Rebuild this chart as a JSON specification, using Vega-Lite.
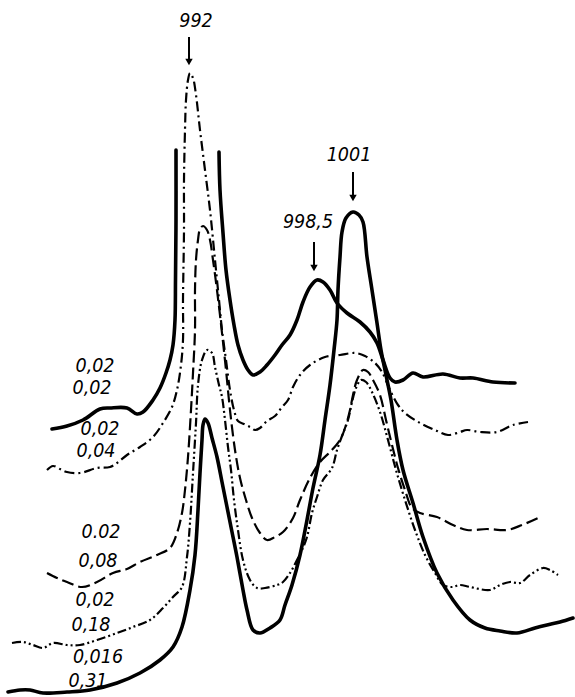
{
  "$schema": "https://vega.github.io/schema/vega-lite/v6.json",
  "width": 575,
  "height": 697,
  "padding": 0,
  "autosize": {"type": "fit", "contains": "padding"},
  "background": "white",
  "config": {"view": {"stroke": null}},
  "datasets": {
    "curves": [
      {"c":"A","s":1,"x":52,"y":429},{"c":"A","s":1,"x":67,"y":426},{"c":"A","s":1,"x":83,"y":420},{"c":"A","s":1,"x":100,"y":409},{"c":"A","s":1,"x":110,"y":408},{"c":"A","s":1,"x":127,"y":408},{"c":"A","s":1,"x":137,"y":414},{"c":"A","s":1,"x":143,"y":412},{"c":"A","s":1,"x":153,"y":400},{"c":"A","s":1,"x":160,"y":388},{"c":"A","s":1,"x":166,"y":373},{"c":"A","s":1,"x":170,"y":360},{"c":"A","s":1,"x":173,"y":345},{"c":"A","s":1,"x":175,"y":320},{"c":"A","s":1,"x":175.5,"y":280},{"c":"A","s":1,"x":176,"y":220},{"c":"A","s":1,"x":176,"y":150},
      {"c":"A","s":2,"x":219,"y":152},{"c":"A","s":2,"x":220,"y":190},{"c":"A","s":2,"x":223,"y":233},{"c":"A","s":2,"x":226,"y":270},{"c":"A","s":2,"x":230,"y":300},{"c":"A","s":2,"x":234,"y":325},{"c":"A","s":2,"x":238,"y":345},{"c":"A","s":2,"x":243,"y":360},{"c":"A","s":2,"x":248,"y":370},{"c":"A","s":2,"x":253,"y":375},{"c":"A","s":2,"x":260,"y":372},{"c":"A","s":2,"x":267,"y":365},{"c":"A","s":2,"x":275,"y":355},{"c":"A","s":2,"x":282,"y":345},{"c":"A","s":2,"x":290,"y":335},{"c":"A","s":2,"x":297,"y":320},{"c":"A","s":2,"x":303,"y":302},{"c":"A","s":2,"x":310,"y":287},{"c":"A","s":2,"x":317,"y":280},{"c":"A","s":2,"x":323,"y":282},{"c":"A","s":2,"x":330,"y":290},{"c":"A","s":2,"x":337,"y":303},{"c":"A","s":2,"x":347,"y":313},{"c":"A","s":2,"x":360,"y":322},{"c":"A","s":2,"x":370,"y":332},{"c":"A","s":2,"x":377,"y":343},{"c":"A","s":2,"x":383,"y":360},{"c":"A","s":2,"x":390,"y":378},{"c":"A","s":2,"x":395,"y":382},{"c":"A","s":2,"x":403,"y":380},{"c":"A","s":2,"x":413,"y":373},{"c":"A","s":2,"x":423,"y":377},{"c":"A","s":2,"x":443,"y":374},{"c":"A","s":2,"x":460,"y":378},{"c":"A","s":2,"x":473,"y":378},{"c":"A","s":2,"x":493,"y":382},{"c":"A","s":2,"x":515,"y":383},

      {"c":"B","s":1,"x":47,"y":470},{"c":"B","s":1,"x":53,"y":466},{"c":"B","s":1,"x":60,"y":469},{"c":"B","s":1,"x":67,"y":472},{"c":"B","s":1,"x":80,"y":473},{"c":"B","s":1,"x":97,"y":468},{"c":"B","s":1,"x":110,"y":467},{"c":"B","s":1,"x":117,"y":463},{"c":"B","s":1,"x":127,"y":455},{"c":"B","s":1,"x":140,"y":447},{"c":"B","s":1,"x":153,"y":437},{"c":"B","s":1,"x":163,"y":423},{"c":"B","s":1,"x":172,"y":407},{"c":"B","s":1,"x":177,"y":390},{"c":"B","s":1,"x":181,"y":365},{"c":"B","s":1,"x":183,"y":340},{"c":"B","s":1,"x":183,"y":300},{"c":"B","s":1,"x":184,"y":230},{"c":"B","s":1,"x":184,"y":180},{"c":"B","s":1,"x":185,"y":130},{"c":"B","s":1,"x":186,"y":100},{"c":"B","s":1,"x":188,"y":80},{"c":"B","s":1,"x":190,"y":73},{"c":"B","s":1,"x":193,"y":78},{"c":"B","s":1,"x":196,"y":95},{"c":"B","s":1,"x":200,"y":130},{"c":"B","s":1,"x":205,"y":170},{"c":"B","s":1,"x":210,"y":210},{"c":"B","s":1,"x":215,"y":260},{"c":"B","s":1,"x":219,"y":300},{"c":"B","s":1,"x":222,"y":330},{"c":"B","s":1,"x":226,"y":360},{"c":"B","s":1,"x":230,"y":390},{"c":"B","s":1,"x":234,"y":410},{"c":"B","s":1,"x":238,"y":421},{"c":"B","s":1,"x":244,"y":424},{"c":"B","s":1,"x":250,"y":427},{"c":"B","s":1,"x":255,"y":430},{"c":"B","s":1,"x":260,"y":428},{"c":"B","s":1,"x":267,"y":421},{"c":"B","s":1,"x":275,"y":416},{"c":"B","s":1,"x":282,"y":407},{"c":"B","s":1,"x":288,"y":400},{"c":"B","s":1,"x":293,"y":387},{"c":"B","s":1,"x":300,"y":375},{"c":"B","s":1,"x":310,"y":365},{"c":"B","s":1,"x":325,"y":357},{"c":"B","s":1,"x":340,"y":355},{"c":"B","s":1,"x":355,"y":353},{"c":"B","s":1,"x":365,"y":356},{"c":"B","s":1,"x":375,"y":363},{"c":"B","s":1,"x":382,"y":372},{"c":"B","s":1,"x":390,"y":390},{"c":"B","s":1,"x":398,"y":405},{"c":"B","s":1,"x":405,"y":413},{"c":"B","s":1,"x":420,"y":423},{"c":"B","s":1,"x":435,"y":430},{"c":"B","s":1,"x":448,"y":435},{"c":"B","s":1,"x":460,"y":432},{"c":"B","s":1,"x":467,"y":430},{"c":"B","s":1,"x":480,"y":432},{"c":"B","s":1,"x":497,"y":432},{"c":"B","s":1,"x":513,"y":425},{"c":"B","s":1,"x":528,"y":422},

      {"c":"C","s":1,"x":47,"y":573},{"c":"C","s":1,"x":57,"y":578},{"c":"C","s":1,"x":67,"y":582},{"c":"C","s":1,"x":82,"y":587},{"c":"C","s":1,"x":97,"y":582},{"c":"C","s":1,"x":113,"y":573},{"c":"C","s":1,"x":127,"y":569},{"c":"C","s":1,"x":140,"y":562},{"c":"C","s":1,"x":157,"y":555},{"c":"C","s":1,"x":170,"y":548},{"c":"C","s":1,"x":177,"y":533},{"c":"C","s":1,"x":182,"y":513},{"c":"C","s":1,"x":185,"y":490},{"c":"C","s":1,"x":188,"y":457},{"c":"C","s":1,"x":191,"y":410},{"c":"C","s":1,"x":193,"y":373},{"c":"C","s":1,"x":195,"y":330},{"c":"C","s":1,"x":195,"y":290},{"c":"C","s":1,"x":196,"y":260},{"c":"C","s":1,"x":198,"y":240},{"c":"C","s":1,"x":200,"y":229},{"c":"C","s":1,"x":203,"y":226},{"c":"C","s":1,"x":207,"y":230},{"c":"C","s":1,"x":210,"y":240},{"c":"C","s":1,"x":213,"y":260},{"c":"C","s":1,"x":217,"y":290},{"c":"C","s":1,"x":222,"y":333},{"c":"C","s":1,"x":226,"y":370},{"c":"C","s":1,"x":230,"y":410},{"c":"C","s":1,"x":235,"y":450},{"c":"C","s":1,"x":240,"y":478},{"c":"C","s":1,"x":246,"y":500},{"c":"C","s":1,"x":252,"y":518},{"c":"C","s":1,"x":260,"y":533},{"c":"C","s":1,"x":267,"y":540},{"c":"C","s":1,"x":275,"y":537},{"c":"C","s":1,"x":283,"y":532},{"c":"C","s":1,"x":293,"y":518},{"c":"C","s":1,"x":300,"y":500},{"c":"C","s":1,"x":310,"y":478},{"c":"C","s":1,"x":320,"y":462},{"c":"C","s":1,"x":330,"y":452},{"c":"C","s":1,"x":340,"y":440},{"c":"C","s":1,"x":346,"y":425},{"c":"C","s":1,"x":350,"y":410},{"c":"C","s":1,"x":353,"y":395},{"c":"C","s":1,"x":357,"y":380},{"c":"C","s":1,"x":363,"y":370},{"c":"C","s":1,"x":368,"y":372},{"c":"C","s":1,"x":373,"y":380},{"c":"C","s":1,"x":380,"y":395},{"c":"C","s":1,"x":386,"y":420},{"c":"C","s":1,"x":392,"y":445},{"c":"C","s":1,"x":398,"y":468},{"c":"C","s":1,"x":405,"y":490},{"c":"C","s":1,"x":412,"y":508},{"c":"C","s":1,"x":420,"y":513},{"c":"C","s":1,"x":437,"y":517},{"c":"C","s":1,"x":453,"y":525},{"c":"C","s":1,"x":467,"y":530},{"c":"C","s":1,"x":487,"y":529},{"c":"C","s":1,"x":507,"y":530},{"c":"C","s":1,"x":522,"y":525},{"c":"C","s":1,"x":538,"y":518},

      {"c":"D","s":1,"x":12,"y":643},{"c":"D","s":1,"x":23,"y":642},{"c":"D","s":1,"x":33,"y":645},{"c":"D","s":1,"x":43,"y":648},{"c":"D","s":1,"x":53,"y":643},{"c":"D","s":1,"x":67,"y":645},{"c":"D","s":1,"x":80,"y":645},{"c":"D","s":1,"x":97,"y":640},{"c":"D","s":1,"x":117,"y":633},{"c":"D","s":1,"x":133,"y":627},{"c":"D","s":1,"x":150,"y":620},{"c":"D","s":1,"x":163,"y":608},{"c":"D","s":1,"x":173,"y":597},{"c":"D","s":1,"x":182,"y":587},{"c":"D","s":1,"x":187,"y":557},{"c":"D","s":1,"x":190,"y":523},{"c":"D","s":1,"x":193,"y":473},{"c":"D","s":1,"x":196,"y":423},{"c":"D","s":1,"x":198,"y":385},{"c":"D","s":1,"x":202,"y":360},{"c":"D","s":1,"x":207,"y":350},{"c":"D","s":1,"x":212,"y":353},{"c":"D","s":1,"x":215,"y":367},{"c":"D","s":1,"x":219,"y":385},{"c":"D","s":1,"x":222,"y":397},{"c":"D","s":1,"x":225,"y":420},{"c":"D","s":1,"x":228,"y":447},{"c":"D","s":1,"x":231,"y":470},{"c":"D","s":1,"x":234,"y":500},{"c":"D","s":1,"x":238,"y":530},{"c":"D","s":1,"x":243,"y":560},{"c":"D","s":1,"x":250,"y":580},{"c":"D","s":1,"x":257,"y":588},{"c":"D","s":1,"x":265,"y":588},{"c":"D","s":1,"x":277,"y":585},{"c":"D","s":1,"x":283,"y":582},{"c":"D","s":1,"x":290,"y":573},{"c":"D","s":1,"x":297,"y":560},{"c":"D","s":1,"x":302,"y":550},{"c":"D","s":1,"x":307,"y":537},{"c":"D","s":1,"x":312,"y":513},{"c":"D","s":1,"x":317,"y":497},{"c":"D","s":1,"x":323,"y":480},{"c":"D","s":1,"x":332,"y":468},{"c":"D","s":1,"x":337,"y":450},{"c":"D","s":1,"x":342,"y":436},{"c":"D","s":1,"x":348,"y":420},{"c":"D","s":1,"x":352,"y":402},{"c":"D","s":1,"x":356,"y":388},{"c":"D","s":1,"x":361,"y":380},{"c":"D","s":1,"x":366,"y":382},{"c":"D","s":1,"x":372,"y":392},{"c":"D","s":1,"x":380,"y":412},{"c":"D","s":1,"x":388,"y":440},{"c":"D","s":1,"x":396,"y":470},{"c":"D","s":1,"x":405,"y":500},{"c":"D","s":1,"x":415,"y":530},{"c":"D","s":1,"x":425,"y":555},{"c":"D","s":1,"x":435,"y":573},{"c":"D","s":1,"x":443,"y":585},{"c":"D","s":1,"x":452,"y":587},{"c":"D","s":1,"x":460,"y":585},{"c":"D","s":1,"x":470,"y":587},{"c":"D","s":1,"x":490,"y":590},{"c":"D","s":1,"x":500,"y":585},{"c":"D","s":1,"x":510,"y":582},{"c":"D","s":1,"x":520,"y":583},{"c":"D","s":1,"x":530,"y":575},{"c":"D","s":1,"x":543,"y":568},{"c":"D","s":1,"x":550,"y":570},{"c":"D","s":1,"x":558,"y":575},

      {"c":"E","s":1,"x":8,"y":692},{"c":"E","s":1,"x":20,"y":690},{"c":"E","s":1,"x":30,"y":690},{"c":"E","s":1,"x":43,"y":693},{"c":"E","s":1,"x":67,"y":692},{"c":"E","s":1,"x":90,"y":690},{"c":"E","s":1,"x":117,"y":683},{"c":"E","s":1,"x":140,"y":673},{"c":"E","s":1,"x":160,"y":660},{"c":"E","s":1,"x":173,"y":647},{"c":"E","s":1,"x":182,"y":627},{"c":"E","s":1,"x":190,"y":590},{"c":"E","s":1,"x":195,"y":555},{"c":"E","s":1,"x":198,"y":510},{"c":"E","s":1,"x":200,"y":473},{"c":"E","s":1,"x":202,"y":440},{"c":"E","s":1,"x":203,"y":425},{"c":"E","s":1,"x":205,"y":419},{"c":"E","s":1,"x":208,"y":423},{"c":"E","s":1,"x":212,"y":438},{"c":"E","s":1,"x":217,"y":457},{"c":"E","s":1,"x":222,"y":482},{"c":"E","s":1,"x":227,"y":507},{"c":"E","s":1,"x":232,"y":532},{"c":"E","s":1,"x":237,"y":557},{"c":"E","s":1,"x":243,"y":590},{"c":"E","s":1,"x":247,"y":610},{"c":"E","s":1,"x":253,"y":630},{"c":"E","s":1,"x":260,"y":633},{"c":"E","s":1,"x":270,"y":628},{"c":"E","s":1,"x":280,"y":620},{"c":"E","s":1,"x":285,"y":605},{"c":"E","s":1,"x":292,"y":585},{"c":"E","s":1,"x":300,"y":555},{"c":"E","s":1,"x":307,"y":520},{"c":"E","s":1,"x":313,"y":488},{"c":"E","s":1,"x":320,"y":455},{"c":"E","s":1,"x":325,"y":420},{"c":"E","s":1,"x":330,"y":385},{"c":"E","s":1,"x":334,"y":350},{"c":"E","s":1,"x":337,"y":320},{"c":"E","s":1,"x":338,"y":290},{"c":"E","s":1,"x":340,"y":257},{"c":"E","s":1,"x":342,"y":232},{"c":"E","s":1,"x":346,"y":218},{"c":"E","s":1,"x":353,"y":212},{"c":"E","s":1,"x":359,"y":215},{"c":"E","s":1,"x":363,"y":222},{"c":"E","s":1,"x":367,"y":257},{"c":"E","s":1,"x":372,"y":290},{"c":"E","s":1,"x":377,"y":323},{"c":"E","s":1,"x":381,"y":350},{"c":"E","s":1,"x":386,"y":375},{"c":"E","s":1,"x":391,"y":400},{"c":"E","s":1,"x":397,"y":440},{"c":"E","s":1,"x":403,"y":470},{"c":"E","s":1,"x":413,"y":503},{"c":"E","s":1,"x":423,"y":537},{"c":"E","s":1,"x":437,"y":573},{"c":"E","s":1,"x":453,"y":600},{"c":"E","s":1,"x":470,"y":620},{"c":"E","s":1,"x":485,"y":628},{"c":"E","s":1,"x":500,"y":631},{"c":"E","s":1,"x":517,"y":633},{"c":"E","s":1,"x":535,"y":628},{"c":"E","s":1,"x":547,"y":625},{"c":"E","s":1,"x":560,"y":622},{"c":"E","s":1,"x":573,"y":618}
    ],
    "labels": [
      {"t":"992","x":196,"y":21},
      {"t":"1001","x":349,"y":155},
      {"t":"998,5","x":308,"y":222},
      {"t":"0,02","x":95,"y":366},
      {"t":"0,02","x":92,"y":388},
      {"t":"0,02","x":100,"y":429},
      {"t":"0,04","x":96,"y":451},
      {"t":"0.02","x":101,"y":532},
      {"t":"0,08","x":98,"y":561},
      {"t":"0,02","x":95,"y":600},
      {"t":"0,18","x":91,"y":625},
      {"t":"0,016","x":98,"y":657},
      {"t":"0,31","x":88,"y":681}
    ],
    "arrows": [
      {"x":189,"y1":37,"y2":60,"h":62},
      {"x":353,"y1":172,"y2":196,"h":198},
      {"x":314,"y1":242,"y2":266,"h":268}
    ]
  },
  "layer": [
    {
      "data": {"name": "curves"},
      "transform": [{"filter": "datum.c === 'A'"}],
      "mark": {"type": "line", "color": "#000", "strokeWidth": 3.6, "interpolate": "catmull-rom", "strokeCap": "round", "strokeJoin": "round"},
      "encoding": {
        "x": {"field": "x", "type": "quantitative", "scale": {"domain": [0, 575], "nice": false, "zero": false}, "axis": null},
        "y": {"field": "y", "type": "quantitative", "scale": {"domain": [0, 697], "nice": false, "zero": false, "reverse": true}, "axis": null},
        "detail": {"field": "s"},
        "order": {"value": null}
      }
    },
    {
      "data": {"name": "curves"},
      "transform": [{"filter": "datum.c === 'B'"}],
      "mark": {"type": "line", "color": "#000", "strokeWidth": 2.2, "interpolate": "catmull-rom", "strokeDash": [10, 4, 2, 4]},
      "encoding": {
        "x": {"field": "x", "type": "quantitative", "axis": null},
        "y": {"field": "y", "type": "quantitative", "axis": null},
        "order": {"value": null}
      }
    },
    {
      "data": {"name": "curves"},
      "transform": [{"filter": "datum.c === 'C'"}],
      "mark": {"type": "line", "color": "#000", "strokeWidth": 2.2, "interpolate": "catmull-rom", "strokeDash": [12, 5]},
      "encoding": {
        "x": {"field": "x", "type": "quantitative", "axis": null},
        "y": {"field": "y", "type": "quantitative", "axis": null},
        "order": {"value": null}
      }
    },
    {
      "data": {"name": "curves"},
      "transform": [{"filter": "datum.c === 'D'"}],
      "mark": {"type": "line", "color": "#000", "strokeWidth": 2.2, "interpolate": "catmull-rom", "strokeDash": [9, 3, 2, 3, 2, 3]},
      "encoding": {
        "x": {"field": "x", "type": "quantitative", "axis": null},
        "y": {"field": "y", "type": "quantitative", "axis": null},
        "order": {"value": null}
      }
    },
    {
      "data": {"name": "curves"},
      "transform": [{"filter": "datum.c === 'E'"}],
      "mark": {"type": "line", "color": "#000", "strokeWidth": 3.6, "interpolate": "catmull-rom", "strokeCap": "round", "strokeJoin": "round"},
      "encoding": {
        "x": {"field": "x", "type": "quantitative", "axis": null},
        "y": {"field": "y", "type": "quantitative", "axis": null},
        "order": {"value": null}
      }
    },
    {
      "data": {"name": "arrows"},
      "mark": {"type": "rule", "color": "#000", "strokeWidth": 2},
      "encoding": {
        "x": {"field": "x", "type": "quantitative", "axis": null},
        "y": {"field": "y1", "type": "quantitative", "axis": null},
        "y2": {"field": "y2"}
      }
    },
    {
      "data": {"name": "arrows"},
      "mark": {"type": "point", "shape": "triangle-down", "filled": true, "color": "#000", "size": 55, "opacity": 1},
      "encoding": {
        "x": {"field": "x", "type": "quantitative", "axis": null},
        "y": {"field": "h", "type": "quantitative", "axis": null}
      }
    },
    {
      "data": {"name": "labels"},
      "mark": {"type": "text", "font": "'DejaVu Sans Condensed', 'Liberation Sans', sans-serif", "fontStyle": "italic", "fontSize": 19.5, "color": "#000", "align": "center", "baseline": "middle"},
      "encoding": {
        "x": {"field": "x", "type": "quantitative", "axis": null},
        "y": {"field": "y", "type": "quantitative", "axis": null},
        "text": {"field": "t"}
      }
    }
  ]
}
